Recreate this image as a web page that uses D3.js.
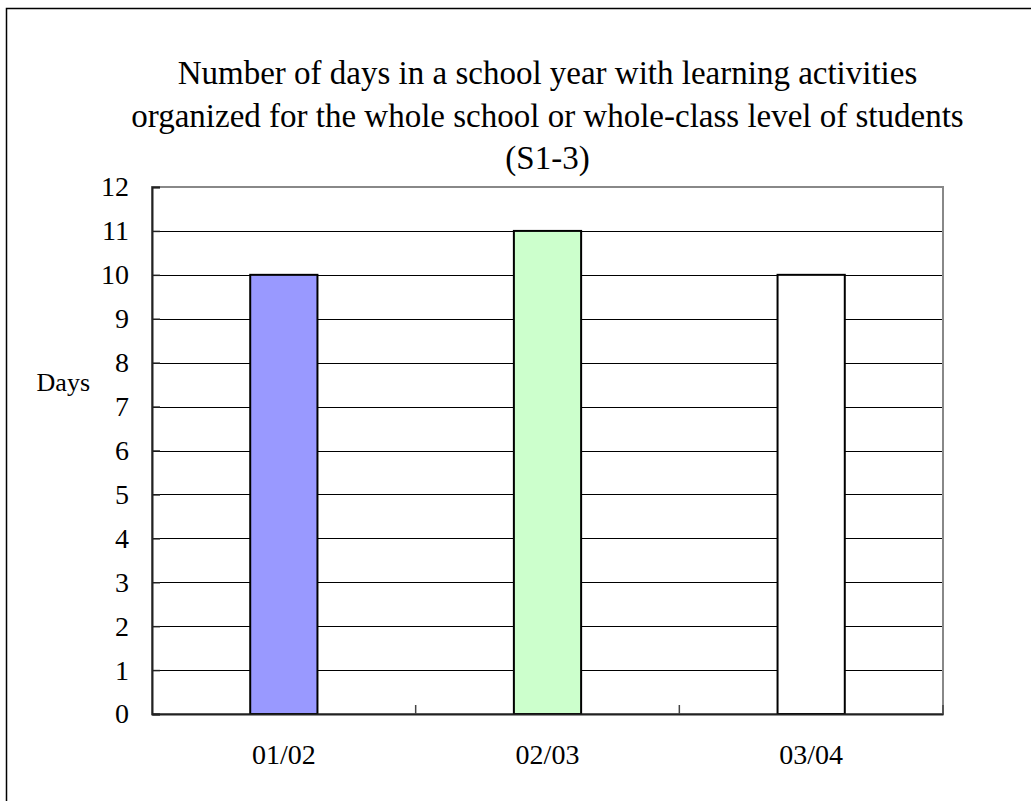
<!DOCTYPE html>
<html><head><meta charset="utf-8">
<script src="https://cdn.jsdelivr.net/npm/d3@7"></script>
<style>body{margin:0;background:#fff}svg{display:block}text{font-family:"Liberation Serif","Times New Roman",serif;fill:#000}</style>
</head><body><svg id="c" width="1031" height="801"></svg>
<script>
const categories = ["01/02", "02/03", "03/04"];
const values = [10, 11, 10];
const barColors = ["#9999FF", "#CCFFCC", "#FFFFFF"];
const yTicks = [0,1,2,3,4,5,6,7,8,9,10,11,12];
const titleLines = ["Number of days in a school year with learning activities",
  "organized for the whole school or whole-class level of students", "(S1-3)"];
const yLabel = "Days";

const svg = d3.select("#c");
const L = 152, R = 943, T = 187, B = 714;
// outer frame (left and top visible)
svg.append("rect").attr("x", 6.5).attr("y", 8.5).attr("width", 1100).attr("height", 900)
  .attr("fill", "none").attr("stroke", "#000").attr("stroke-width", 1.5);

const x = d3.scaleBand().domain(categories).range([L, R]).paddingInner(0).paddingOuter(0);
const y = d3.scaleLinear().domain([0, 12]).range([B, T]);

// gridlines
svg.append("g").selectAll("line").data(yTicks.filter(d => d > 0 && d < 12)).join("line")
  .attr("x1", L).attr("x2", R).attr("y1", d => Math.round(y(d)) + 0.5).attr("y2", d => Math.round(y(d)) + 0.5)
  .attr("stroke", "#000").attr("stroke-width", 1);

// plot border (gray top/right)
svg.append("rect").attr("x", L).attr("y", T).attr("width", R - L).attr("height", B - T)
  .attr("fill", "none").attr("stroke", "#888").attr("stroke-width", 2);

// bars
const bw = x.bandwidth() * 0.255;
svg.append("g").selectAll("rect").data(values).join("rect")
  .attr("x", (d, i) => x(categories[i]) + x.bandwidth() / 2 - bw / 2)
  .attr("y", d => y(d)).attr("width", bw).attr("height", d => y(0) - y(d))
  .attr("fill", (d, i) => barColors[i]).attr("stroke", "#000").attr("stroke-width", 2);

// y axis
const ya = svg.append("g").attr("transform", `translate(${L},0)`)
  .call(d3.axisLeft(y).tickValues(yTicks).tickSize(-8).tickPadding(23).tickFormat(d3.format("d")));
ya.select(".domain").attr("stroke", "#222").attr("stroke-width", 2);
ya.selectAll(".tick line").attr("stroke", "#222").attr("stroke-width", 1.5);
ya.selectAll("text").style("font-size", "28px").attr("font-family", null).attr("fill", "#000");

// x axis
const xa = svg.append("g").attr("transform", `translate(0,${B})`)
  .call(d3.axisBottom(x).tickSize(0).tickPadding(30));
xa.select(".domain").attr("stroke", "#222").attr("stroke-width", 2);
xa.selectAll("text").style("font-size", "28px").attr("font-family", null).attr("fill", "#000");
// category boundary ticks (inside)
svg.append("g").selectAll("line").data(categories.slice(1).concat(["end"])).join("line")
  .attr("x1", (d, i) => i < 2 ? x(categories[i + 1]) : R).attr("x2", (d, i) => i < 2 ? x(categories[i + 1]) : R)
  .attr("y1", B).attr("y2", B - 9).attr("stroke", "#444").attr("stroke-width", 1.5);

// title
svg.append("g").selectAll("text").data(titleLines).join("text")
  .attr("x", (L + R) / 2).attr("y", (d, i) => 84 + i * 42.5).attr("text-anchor", "middle")
  .style("font-size", "33px").text(d => d);

// y label
svg.append("text").attr("x", 90).attr("y", 391).attr("text-anchor", "end")
  .style("font-size", "26px").text(yLabel);
</script></body></html>
